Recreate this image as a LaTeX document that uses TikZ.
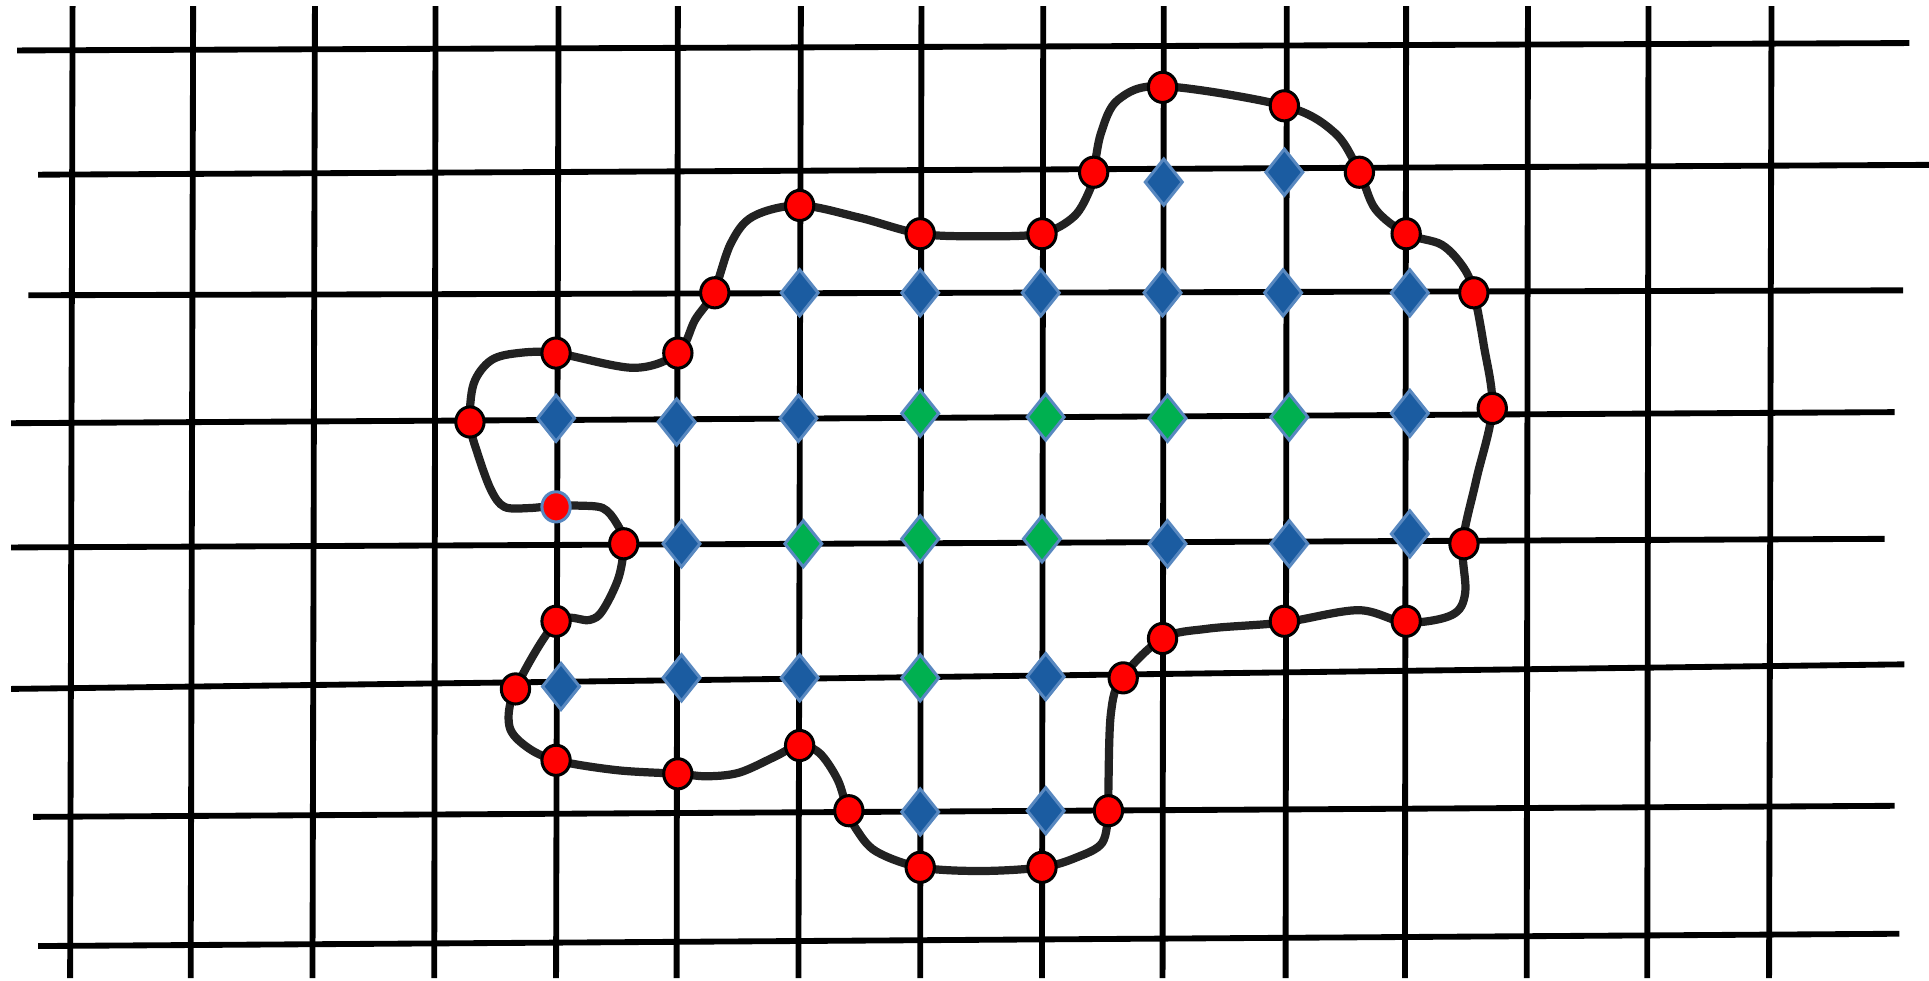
\documentclass[tikz,border=0pt]{standalone}
\usepackage{tikz}
\usetikzlibrary{shapes.geometric}
\definecolor{ptred}{RGB}{255,0,0}
\definecolor{cellblue}{RGB}{27,92,161}
\definecolor{cellgreen}{RGB}{0,176,80}
\definecolor{cellrim}{RGB}{88,136,192}
\definecolor{curvegray}{RGB}{34,34,34}
\tikzset{
  gridline/.style={draw=black, line width=1.35pt},
  boundary/.style={draw=curvegray, line width=1.9pt},
  crosspt/.style={
    ellipse,
    draw=black,
    line width=0.7pt,
    fill=ptred,
    inner sep=0pt,
    minimum width=2.3mm,
    minimum height=2.45mm
  },
  cutcell/.style={
    diamond,
    draw=cellrim,
    line width=0.7pt,
    fill=cellblue,
    inner sep=0pt,
    minimum width=3.1mm,
    minimum height=3.85mm
  },
  incell/.style={cutcell, fill=cellgreen}
}

\begin{document}
\begin{tikzpicture}[x=0.01cm, y=-0.01cm]
\useasboundingbox (0,0) rectangle (1568,797);

% grid
\foreach \xa/\xb in {59/57, 157/155, 256/254, 354/353, 454/452, 551/550, 651/649, 749/748,
                     848/847, 946/945, 1046/1045, 1143/1142, 1242/1241, 1340/1339, 1440/1438}
  \draw[gridline] (\xa,5) -- (\xb,795);
\foreach \xl/\yl/\xr/\yr in {14/41/1552/35, 31/142/1568/134, 23/240/1547/236, 9/344/1540/335,
                             9/445/1532/438, 9/560/1548/540, 27/664/1540/655, 31/769/1544/759}
  \draw[gridline] (\xl,\yl) -- (\xr,\yr);

% interface
\draw[boundary] plot[smooth cycle, tension=0.55] coordinates {
  (945,70) (1044,86) (1085,108) (1105,140) (1118,170) (1143,190) (1172,199) (1190,218)
  (1198,238) (1206,280) (1213,332) (1200,390) (1189,441) (1191,482) (1180,500) (1143,506)
  (1104,496) (1043,506) (982,511) (945,519) (912,551) (903,580) (901,640) (901,659)
  (896,685) (875,697) (847,705) (797,708) (748,705) (712,692) (696,674) (689,659)
  (681,634) (666,612) (649,606) (630,615) (601,628) (575,631) (551,629) (501,626)
  (452,618) (428,607) (414,590) (419,560) (452,506) (479,504) (490,496) (503,469)
  (507,441) (501,425) (490,413) (470,411) (452,411) (430,413) (410,412) (399,398)
  (388,368) (382,344) (385,312) (399,293) (421,287) (452,287) (515,299) (551,287)
  (565,260) (580,238) (594,198) (612,176) (650,167) (699,177) (748,190) (797,192)
  (846,190) (873,176) (886,154) (889,140) (895,108) (909,81)};

% cut cells
\foreach \x/\y [count=\i] in {946/148, 1044/140,
    650/238, 748/238, 846/238, 945/238, 1043/238, 1146/238,
    452/340, 550/343, 649/340, 1146/336,
    554/442, 949/442, 1048/442, 1146/434,
    456/558, 554/551, 650/551, 850/550,
    748/660, 850/659}
  \node[cutcell] (c\i) at (\x,\y) {};

% inner cells
\foreach \x/\y [count=\i] in {748/336, 850/339, 949/340, 1048/339,
    653/442, 748/438, 847/438, 748/551}
  \node[incell] (g\i) at (\x,\y) {};

% crossing points
\foreach \x/\y [count=\i] in {945/71, 1044/86, 1105/140, 1143/190, 1198/238, 1213/332,
    1190/442, 1143/505, 1044/505, 945/519, 913/551, 901/659, 847/705, 748/705,
    690/659, 650/606, 551/629, 452/618, 419/560, 452/505, 507/442,
    382/343, 452/287, 551/287, 581/238, 650/167, 748/190, 847/190, 889/140}
  \node[crosspt] (p\i) at (\x,\y) {};
\node[crosspt, draw=cellrim] (pin) at (452,412) {};
\end{tikzpicture}
\end{document}
